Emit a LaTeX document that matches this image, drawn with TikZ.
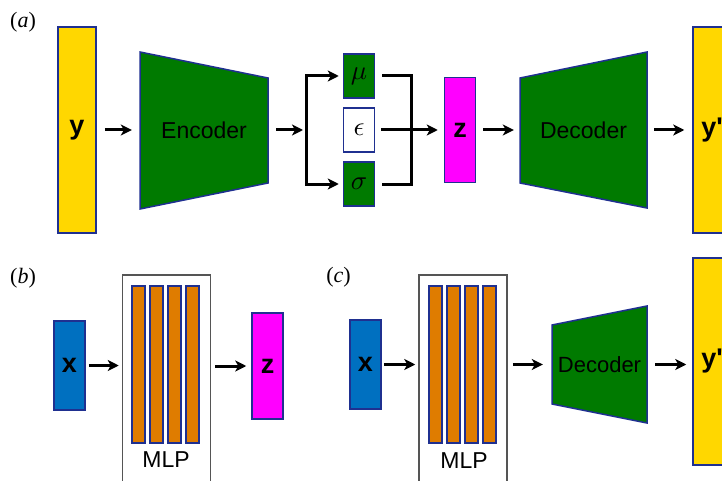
\documentclass[tikz,border=0pt]{standalone}
\usepackage{graphicx}
\usepackage{fontspec}
\setmainfont{Liberation Sans}
\newfontfamily\seriffont{Liberation Serif}
\usetikzlibrary{arrows.meta}
\definecolor{edgeblue}{HTML}{1F3090}
\definecolor{boxgold}{HTML}{FFD700}
\definecolor{netgreen}{HTML}{007A00}
\definecolor{latmag}{HTML}{FF00FF}
\definecolor{inblue}{HTML}{0070C0}
\definecolor{barorange}{HTML}{DF7C00}
\definecolor{mlpgray}{HTML}{555555}
\newcommand{\bigsym}[1]{\scalebox{2.7}{$#1$}}
\begin{document}
\begin{tikzpicture}[x=1pt, y=-1pt, line join=miter, >={Stealth[length=11pt,width=11pt,inset=3pt]},
	box/.style={draw=edgeblue, line width=1.5pt, inner sep=0pt, font=\fontsize{27}{30}\selectfont\bfseries},
	trap/.style={fill=netgreen, draw=edgeblue, line width=1.5pt},
	txt/.style={inner sep=0pt, font=\fontsize{23}{26}\selectfont},
	greek/.style={draw=edgeblue, line width=1.5pt, inner sep=0pt, minimum width=31, minimum height=44},
	mlp/.style={draw=mlpgray, line width=1.5pt, minimum width=88, minimum height=215, inner sep=0pt},
	bar/.style={fill=barorange, draw=edgeblue, line width=1.5pt, minimum width=13, minimum height=157, inner sep=0pt},
	tag/.style={inner sep=0pt, font=\fontsize{22}{24}\selectfont\seriffont},
	arr/.style={->, line width=3pt},
	wire/.style={line width=3pt}]
	\clip (0,0) rectangle (722,481);
	
	% (a) full model
	\node[tag] (ta) at (23,22) {(\textit{a})};
	\node[box, fill=boxgold, minimum width=38, minimum height=206] (y) at (77,130) {y};
	\filldraw[trap] (140,52) -- (268,78) -- (268,183) -- (140,209) -- cycle;
	\node[txt, minimum width=128, minimum height=157] (enc) at (204,130) {Encoder};
	\path (306,130) coordinate (split)
	(411,130) coordinate (merge);
	\node[greek, fill=netgreen] (mu) at (359,76) {\bigsym{\mu}};
	\node[greek, fill=white] (eps) at (359,130) {\bigsym{\epsilon}};
	\node[greek, fill=netgreen] (sig) at (359,184) {\bigsym{\sigma}};
	\node[box, fill=latmag, minimum width=31, minimum height=105] (za) at (460,130) {z};
	\filldraw[trap] (520,78) -- (647,52) -- (647,208) -- (520,183) -- cycle;
	\node[txt, minimum width=127, minimum height=156] (deca) at (583.5,130) {Decoder};
	\node[box, fill=boxgold, minimum width=38, minimum height=206] (ypa) at (712,130) {y\textquotesingle};
	
	\draw[arr, shorten <=8, shorten >=8] (y) -- (enc);
	\draw[arr, shorten <=8, shorten >=3] (enc) -- (split);
	\draw[arr, shorten >=4] (split) |- (mu);
	\draw[arr, shorten >=4] (split) |- (sig);
	\draw[wire, shorten <=7] (mu) -| (merge);
	\draw[wire, shorten <=7] (sig) -| (merge);
	\draw[arr, shorten <=6, shorten >=6] (eps) -- (za);
	\draw[arr, shorten <=7, shorten >=6] (za) -- (deca);
	\draw[arr, shorten <=7, shorten >=8] (deca) -- (ypa);
	
	% (b) MLP to latent
	\node[tag] (tb) at (23,278) {(\textit{b})};
	\node[box, fill=inblue, minimum width=31, minimum height=89] (xb) at (69.5,365.5) {x};
	\node[mlp] (mlpb) at (166.5,382.5) {};
	\foreach \i in {1,...,4}
		\node[bar] (mlpb-\i) at (120.5+18*\i,364.5) {};
	\node[txt] (mlpbt) at (166,460) {MLP};
	\node[box, fill=latmag, minimum width=31, minimum height=106] (zb) at (267.5,366) {z};
	\draw[arr, shorten <=3, shorten >=3] (xb) -- (xb -| mlpb.west);
	\draw[arr, shorten <=4, shorten >=5] (mlpb.east |- zb) -- (zb);
	
	% (c) MLP with decoder
	\node[tag] (tc) at (338.5,277) {(\textit{c})};
	\node[box, fill=inblue, minimum width=31, minimum height=89] (xc) at (365.5,364.5) {x};
	\node[mlp] (mlpc) at (463,382.5) {};
	\foreach \i in {1,...,4}
		\node[bar] (mlpc-\i) at (417.5+18*\i,364.5) {};
	\node[txt] (mlpct) at (464,461) {MLP};
	\filldraw[trap] (552,325) -- (647,306) -- (647,423) -- (552,404) -- cycle;
	\node[txt, font=\fontsize{22}{24}\selectfont, minimum width=95, minimum height=117] (decc) at (599.5,364.5) {Decoder};
	\node[box, fill=boxgold, minimum width=38, minimum height=207] (ypc) at (712,361.5) {y\textquotesingle};
	\draw[arr, shorten <=2, shorten >=3] (xc) -- (xc -| mlpc.west);
	\draw[arr, shorten <=5, shorten >=9] (mlpc.east |- decc) -- (decc);
	\draw[arr, shorten <=8, shorten >=6] (decc) -- (decc -| ypc.west);
\end{tikzpicture}
\end{document}
